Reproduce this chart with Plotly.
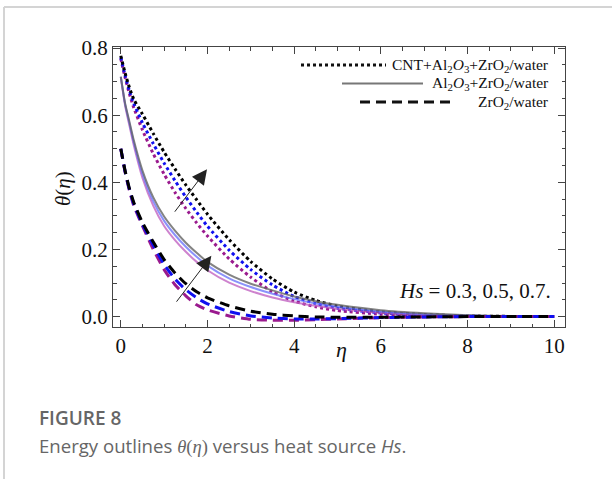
import plotly.graph_objects as go

# eta grid shared by all curves
eta = [0, 0.1, 0.2, 0.3, 0.5, 0.75, 1, 1.25, 1.5, 1.75, 2, 2.5, 3, 3.5, 4, 4.5, 5, 6, 7, 8, 9, 10]

hs_values = ["0.3", "0.5", "0.7"]

# CNT+Al2O3+ZrO2/water (dotted)
tri_hs03 = [0.768, 0.712, 0.663, 0.622, 0.556, 0.485, 0.424, 0.370, 0.322, 0.279, 0.240, 0.172, 0.117, 0.074, 0.046, 0.029, 0.018, 0.007, 0.002, 0.0005, 0, 0]
tri_hs05 = [0.772, 0.718, 0.672, 0.635, 0.577, 0.515, 0.457, 0.405, 0.356, 0.311, 0.269, 0.198, 0.140, 0.094, 0.060, 0.039, 0.025, 0.011, 0.004, 0.001, 0, 0]
tri_hs07 = [0.777, 0.725, 0.682, 0.647, 0.603, 0.545, 0.490, 0.440, 0.392, 0.348, 0.305, 0.229, 0.164, 0.112, 0.073, 0.048, 0.031, 0.014, 0.006, 0.002, 0.0005, 0]

# Al2O3+ZrO2/water (solid)
hyb_hs03 = [0.713, 0.628, 0.568, 0.510, 0.413, 0.330, 0.270, 0.228, 0.193, 0.163, 0.138, 0.101, 0.076, 0.057, 0.043, 0.032, 0.023, 0.011, 0.005, 0.002, 0.0005, 0]
hyb_hs05 = [0.714, 0.632, 0.575, 0.518, 0.425, 0.343, 0.285, 0.243, 0.208, 0.178, 0.152, 0.114, 0.088, 0.068, 0.052, 0.039, 0.029, 0.015, 0.007, 0.003, 0.001, 0]
hyb_hs07 = [0.715, 0.635, 0.580, 0.525, 0.435, 0.355, 0.298, 0.256, 0.220, 0.190, 0.163, 0.125, 0.098, 0.078, 0.060, 0.046, 0.035, 0.019, 0.010, 0.004, 0.0015, 0]

# ZrO2/water (dashed)
mono_hs03 = [0.50, 0.430, 0.375, 0.330, 0.270, 0.200, 0.140, 0.095, 0.062, 0.035, 0.020, 0.002, -0.008, -0.011, -0.011, -0.009, -0.007, -0.003, -0.001, 0, 0, 0]
mono_hs05 = [0.50, 0.432, 0.378, 0.335, 0.275, 0.212, 0.155, 0.112, 0.080, 0.056, 0.038, 0.015, 0.002, -0.004, -0.007, -0.007, -0.006, -0.003, -0.001, 0, 0, 0]
mono_hs07 = [0.50, 0.434, 0.381, 0.340, 0.280, 0.222, 0.170, 0.130, 0.098, 0.074, 0.056, 0.032, 0.016, 0.007, 0.002, -0.001, -0.002, -0.002, -0.001, 0, 0, 0]

legend_labels = [
    "CNT+Al<sub>2</sub><i>O</i><sub>3</sub>+ZrO<sub>2</sub>/water",
    "Al<sub>2</sub><i>O</i><sub>3</sub>+ZrO<sub>2</sub>/water",
    "ZrO<sub>2</sub>/water",
]

hs_colors = ["#9a1a8e", "#1010f0", "#000000"]
solid_colors = ["rgba(190,90,190,0.75)", "rgba(100,110,250,0.75)", "rgba(100,100,100,0.8)"]

W, H = 612, 479
L, R, T, B = 113, 565, 47, 327  # plot frame in pixels


def px(x):
    return (x - L) / (R - L)


def py(y):
    return (B - y) / (B - T)


SERIF = "Liberation Serif"

fig = go.Figure()

groups = [
    ([tri_hs03, tri_hs05, tri_hs07], "3px,3px", 3),
    ([hyb_hs03, hyb_hs05, hyb_hs07], "solid", 2),
    ([mono_hs03, mono_hs05, mono_hs07], "10px,6px", 3),
]

for g, (curves, dash, width) in enumerate(groups):
    for i, ys in enumerate(curves):
        color = solid_colors[i] if g == 1 else hs_colors[i]
        fig.add_trace(go.Scatter(
            x=eta, y=ys, mode="lines",
            line=dict(color=color, width=width, dash=dash, shape="spline", smoothing=0.6),
            name=f"{legend_labels[g]} Hs={hs_values[i]}",
            showlegend=False, hoverinfo="skip",
        ))

axis_common = dict(
    showline=True, linecolor="#444", linewidth=1, mirror="ticks",
    ticks="inside", ticklen=7, tickcolor="#444", tickwidth=1,
    showgrid=False, zeroline=False,
    tickfont=dict(family=SERIF, size=21, color="#111"),
)

fig.update_xaxes(range=[-0.18, 10.25], tickmode="linear", tick0=0, dtick=2,
                 minor=dict(tickmode="linear", tick0=0, dtick=0.5, ticks="inside", ticklen=3.5, tickcolor="#444"),
                 **axis_common)
fig.update_yaxes(range=[-0.031, 0.803], tickmode="linear", tick0=0, dtick=0.2, tickformat=".1f",
                 minor=dict(tickmode="linear", tick0=0, dtick=0.05, ticks="inside", ticklen=3.5, tickcolor="#444"),
                 **axis_common)

annotations = []
shapes = []

# legend (manual, right aligned as in the figure)
legend_rows = [
    (65, 301, 386, dict(color="#111", width=3, dash="3px,3px")),
    (83.5, 342, 423, dict(color="#777", width=2)),
    (102, 360, 456, dict(color="#111", width=3, dash="10px,6px")),
]
for (y, x0, x1, line), label in zip(legend_rows, legend_labels):
    shapes.append(dict(type="line", xref="paper", yref="paper",
                       x0=px(x0), x1=px(x1), y0=py(y), y1=py(y), line=line))
    annotations.append(dict(text=label, xref="paper", yref="paper", x=px(551), y=py(y),
                            xanchor="right", yanchor="middle", showarrow=False,
                            font=dict(family=SERIF, size=15.5, color="#111")))

# arrows showing increasing Hs
for tail, tip in [((1.22, 0.308), (1.99, 0.439)), ((1.26, 0.040), (2.09, 0.181))]:
    annotations.append(dict(x=tip[0], y=tip[1], ax=tail[0], ay=tail[1], xref="x", yref="y",
                            axref="x", ayref="y", text="", showarrow=True,
                            arrowhead=2, arrowsize=3, arrowwidth=1, arrowcolor="#222"))

annotations.append(dict(text="<i>Hs</i> = 0.3, 0.5, 0.7.", xref="paper", yref="paper",
                        x=px(553), y=py(291), xanchor="right", yanchor="middle", showarrow=False,
                        font=dict(family=SERIF, size=21, color="#111")))

# axis titles
annotations.append(dict(text="<i>θ</i>(<i>η</i>)", xref="paper", yref="paper", x=px(63), y=py(189),
                        textangle=-90, showarrow=False, xanchor="center", yanchor="middle",
                        font=dict(family=SERIF, size=21, color="#111")))
annotations.append(dict(text="<i>η</i>", xref="paper", yref="paper", x=px(341), y=py(349),
                        showarrow=False, xanchor="center", yanchor="middle",
                        font=dict(family=SERIF, size=22, color="#111")))

# caption
annotations.append(dict(text="FIGURE 8", xref="paper", yref="paper", x=px(37), y=py(418),
                        xanchor="left", yanchor="middle", showarrow=False,
                        font=dict(family="Open Sans", size=19, color="#666", weight=600)))
annotations.append(dict(text="Energy outlines <span style=\"font-family:Liberation Serif\"><i>θ</i>(<i>η</i>)</span> versus heat source <i>Hs</i>.",
                        xref="paper", yref="paper", x=px(37), y=py(445),
                        xanchor="left", yanchor="middle", showarrow=False,
                        font=dict(family="Open Sans", size=18.6, color="#666")))

# page frame lines (grey border of the figure panel)
shapes.append(dict(type="line", xref="paper", yref="paper", x0=px(4), x1=px(4), y0=py(7), y1=py(479),
                   line=dict(color="#d4d4d4", width=2)))
shapes.append(dict(type="line", xref="paper", yref="paper", x0=px(4), x1=px(612), y0=py(7), y1=py(7),
                   line=dict(color="#d4d4d4", width=2)))

fig.update_layout(
    width=W, height=H,
    margin=dict(l=L, r=W - R, t=T, b=H - B),
    paper_bgcolor="white", plot_bgcolor="white",
    showlegend=False,
    annotations=annotations, shapes=shapes,
)

# drop the browser's default body margin so the figure sits at the page corner
fig.write_html("out.html", config={"displayModeBar": False},
               post_script="document.body.style.margin='0';")
